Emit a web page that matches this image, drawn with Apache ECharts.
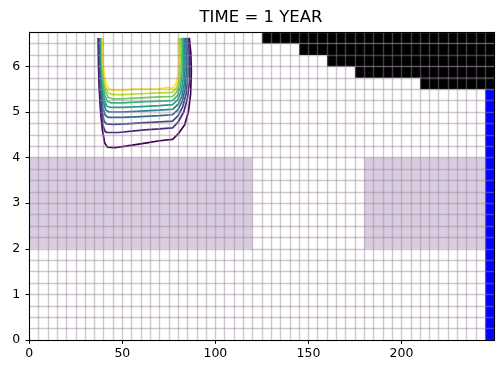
<!DOCTYPE html>
<html><head><meta charset="utf-8">
<script src="https://cdn.jsdelivr.net/npm/echarts@6/dist/echarts.min.js"></script>
<style>html,body{margin:0;padding:0;background:#fff}#c{width:503px;height:374px}</style>
</head><body><div id="c"></div>
<script>
const titleText = 'TIME = 1 YEAR';
const xTicks = [0, 50, 100, 150, 200];
const yTicks = [0, 1, 2, 3, 4, 5, 6];
const xMin = 0, xMax = 250, yMin = 0, yMax = 6.75;
const cellWidth = 5, cellHeight = 0.25;

// low-K zones (x0, x1, y0, y1)
const zoneX0 = [0, 180];
const zoneX1 = [120, 245];
const zoneY0 = [2, 2];
const zoneY1 = [4, 4];

// inactive cells (black), per row: bottom y, start x (extend to right edge)
const inactiveYBottom = [6.5, 6.25, 6.0, 5.75, 5.5];
const inactiveXStart = [125, 145, 160, 175, 210];

// constant-head cells (blue)
const chdX0 = [245], chdX1 = [250], chdY0 = [0], chdY1 = [5.5];

const contourColors = ['#440154', '#482878', '#3e4989', '#31688e', '#26828e',
                       '#1f9e89', '#35b779', '#6ece58', '#b5de2b', '#fde725'];

const contour0 = [[37.0,6.625],[37.2,6.0],[37.6,5.5],[38.3,5.0],[39.3,4.6],[40.5,4.32],[42,4.23],[46,4.22],[52,4.25],[58,4.29],[64,4.33],[70,4.37],[77,4.40],[80,4.52],[83.5,4.72],[85.5,5.0],[86.7,5.4],[87.1,5.9],[86.8,6.3],[86.0,6.625]];
const contour1 = [[37.3,6.625],[37.5,6.0],[37.9,5.5],[38.6,5.0],[39.6,4.7],[40.8,4.57],[42,4.55],[48,4.55],[55,4.58],[62,4.61],[70,4.63],[77,4.65],[80,4.78],[83,5.0],[85,5.3],[86.2,5.7],[86.3,6.1],[85.4,6.625]];
const contour2 = [[37.6,6.625],[37.8,6.0],[38.2,5.5],[39.0,5.05],[40.2,4.8],[41.5,4.74],[45,4.73],[52,4.74],[60,4.76],[68,4.78],[77,4.80],[80,4.92],[82.5,5.12],[84.3,5.4],[85.3,5.8],[85.3,6.2],[84.7,6.625]];
const contour3 = [[37.9,6.625],[38.1,6.0],[38.6,5.5],[39.5,5.1],[40.8,4.93],[42.5,4.88],[50,4.88],[60,4.90],[70,4.92],[77,4.94],[80,5.05],[82.3,5.25],[83.7,5.5],[84.4,5.85],[84.4,6.25],[84.0,6.625]];
const contour4 = [[38.2,6.625],[38.4,6.0],[38.9,5.55],[39.9,5.2],[41.2,5.04],[43,5.00],[50,5.00],[60,5.02],[70,5.04],[77,5.06],[80,5.17],[82,5.35],[83.2,5.6],[83.7,5.95],[83.6,6.3],[83.3,6.625]];
const contour5 = [[38.5,6.625],[38.7,6.0],[39.2,5.6],[40.2,5.27],[41.6,5.13],[43.5,5.10],[50,5.10],[60,5.12],[70,5.14],[77,5.16],[79.8,5.27],[81.6,5.45],[82.6,5.7],[83.0,6.0],[82.9,6.35],[82.6,6.625]];
const contour6 = [[38.8,6.625],[39.0,6.0],[39.5,5.65],[40.5,5.36],[42,5.23],[44,5.20],[50,5.20],[60,5.22],[70,5.24],[77,5.25],[79.6,5.36],[81.2,5.55],[82.0,5.8],[82.3,6.1],[82.2,6.4],[82.0,6.625]];
const contour7 = [[39.0,6.625],[39.2,6.0],[39.8,5.7],[40.8,5.45],[42.3,5.32],[44.5,5.29],[50,5.29],[60,5.31],[70,5.33],[77,5.34],[79.4,5.45],[80.8,5.63],[81.5,5.9],[81.6,6.2],[81.4,6.625]];
const contour8 = [[39.3,6.625],[39.5,6.0],[40.1,5.75],[41.1,5.53],[42.6,5.41],[45,5.38],[50,5.38],[60,5.40],[70,5.42],[77,5.43],[79.2,5.54],[80.4,5.72],[80.9,6.0],[80.9,6.3],[80.7,6.625]];
const contour9 = [[39.6,6.625],[39.8,6.0],[40.4,5.8],[41.4,5.6],[43,5.50],[45,5.48],[50,5.48],[56,5.50],[62,5.50],[70,5.51],[74,5.54],[77,5.52],[78.8,5.62],[79.8,5.8],[80.2,6.1],[80.1,6.4],[80.0,6.625]];
const contours = [contour0, contour1, contour2, contour3, contour4, contour5, contour6, contour7, contour8, contour9];

const FONT = 'DejaVu Sans';
const GRIDLINE = 'rgba(150,132,150,0.45)';

function rectRender(color) {
  return function (params, api) {
    const p0 = api.coord([api.value(0), api.value(2)]);
    const p1 = api.coord([api.value(1), api.value(3)]);
    return {
      type: 'rect',
      shape: { x: p0[0], y: p1[1], width: p1[0] - p0[0], height: p0[1] - p1[1] },
      style: { fill: color }
    };
  };
}

const zoneData = zoneX0.map((v, i) => [v, zoneX1[i], zoneY0[i], zoneY1[i]]);
const inactiveData = inactiveXStart.map((v, i) => [v, xMax, inactiveYBottom[i], inactiveYBottom[i] + cellHeight]);
const chdData = chdX0.map((v, i) => [v, chdX1[i], chdY0[i], chdY1[i]]);

const series = [
  { type: 'custom', renderItem: rectRender('#dacce0'), data: zoneData, encode: { x: [0, 1], y: [2, 3] }, z: 1, silent: true, animation: false },
  { type: 'custom', renderItem: rectRender('#000000'), data: inactiveData, encode: { x: [0, 1], y: [2, 3] }, z: 1, silent: true, animation: false },
  { type: 'custom', renderItem: rectRender('#0000ff'), data: chdData, encode: { x: [0, 1], y: [2, 3] }, z: 1, silent: true, animation: false }
];
contours.forEach((c, i) => {
  series.push({
    type: 'line', data: c, showSymbol: false, symbol: 'none', smooth: false,
    lineStyle: { color: contourColors[i], width: 1.7 }, z: 3, silent: true, animation: false
  });
});

const chart = echarts.init(document.getElementById('c'), null, { renderer: 'canvas' });
chart.setOption({
  animation: false,
  backgroundColor: '#ffffff',
  title: {
    text: titleText, left: 261, top: 9, textAlign: 'center', padding: 0,
    textStyle: { fontFamily: FONT, fontSize: 16.5, fontWeight: 'normal', color: '#000' }
  },
  grid: { left: 29.3, right: 8.5, top: 32.2, bottom: 34, containLabel: false },
  xAxis: [
    {
      type: 'value', min: xMin, max: xMax, interval: 50, position: 'bottom', z: 12,
      axisLine: { show: true, onZero: false, lineStyle: { color: '#000', width: 1 } },
      axisTick: { show: true, length: 3.8, customValues: xTicks, lineStyle: { color: '#000', width: 1 } },
      axisLabel: { customValues: xTicks, color: '#000', fontFamily: FONT, fontSize: 12.5, margin: 7.5 },
      splitLine: { show: false }
    },
    {
      type: 'value', min: xMin, max: xMax, interval: cellWidth, position: 'top', z: 10,
      axisLine: { show: true, onZero: false, lineStyle: { color: '#000', width: 1 } },
      axisTick: { show: false }, axisLabel: { show: false },
      splitLine: { show: true, lineStyle: { color: GRIDLINE, width: 1.4 } }
    }
  ],
  yAxis: [
    {
      type: 'value', min: yMin, max: yMax, interval: 1, position: 'left', z: 12,
      axisLine: { show: true, onZero: false, lineStyle: { color: '#000', width: 1 } },
      axisTick: { show: true, length: 3.8, customValues: yTicks, lineStyle: { color: '#000', width: 1 } },
      axisLabel: { customValues: yTicks, color: '#000', fontFamily: FONT, fontSize: 12.5, margin: 9 },
      splitLine: { show: false }
    },
    {
      type: 'value', min: yMin, max: yMax, interval: cellHeight, position: 'right', z: 10,
      axisLine: { show: true, onZero: false, lineStyle: { color: '#000', width: 1 } },
      axisTick: { show: false }, axisLabel: { show: false },
      splitLine: { show: true, lineStyle: { color: GRIDLINE, width: 1.4 } }
    }
  ],
  series: series
});
</script>
</body></html>
